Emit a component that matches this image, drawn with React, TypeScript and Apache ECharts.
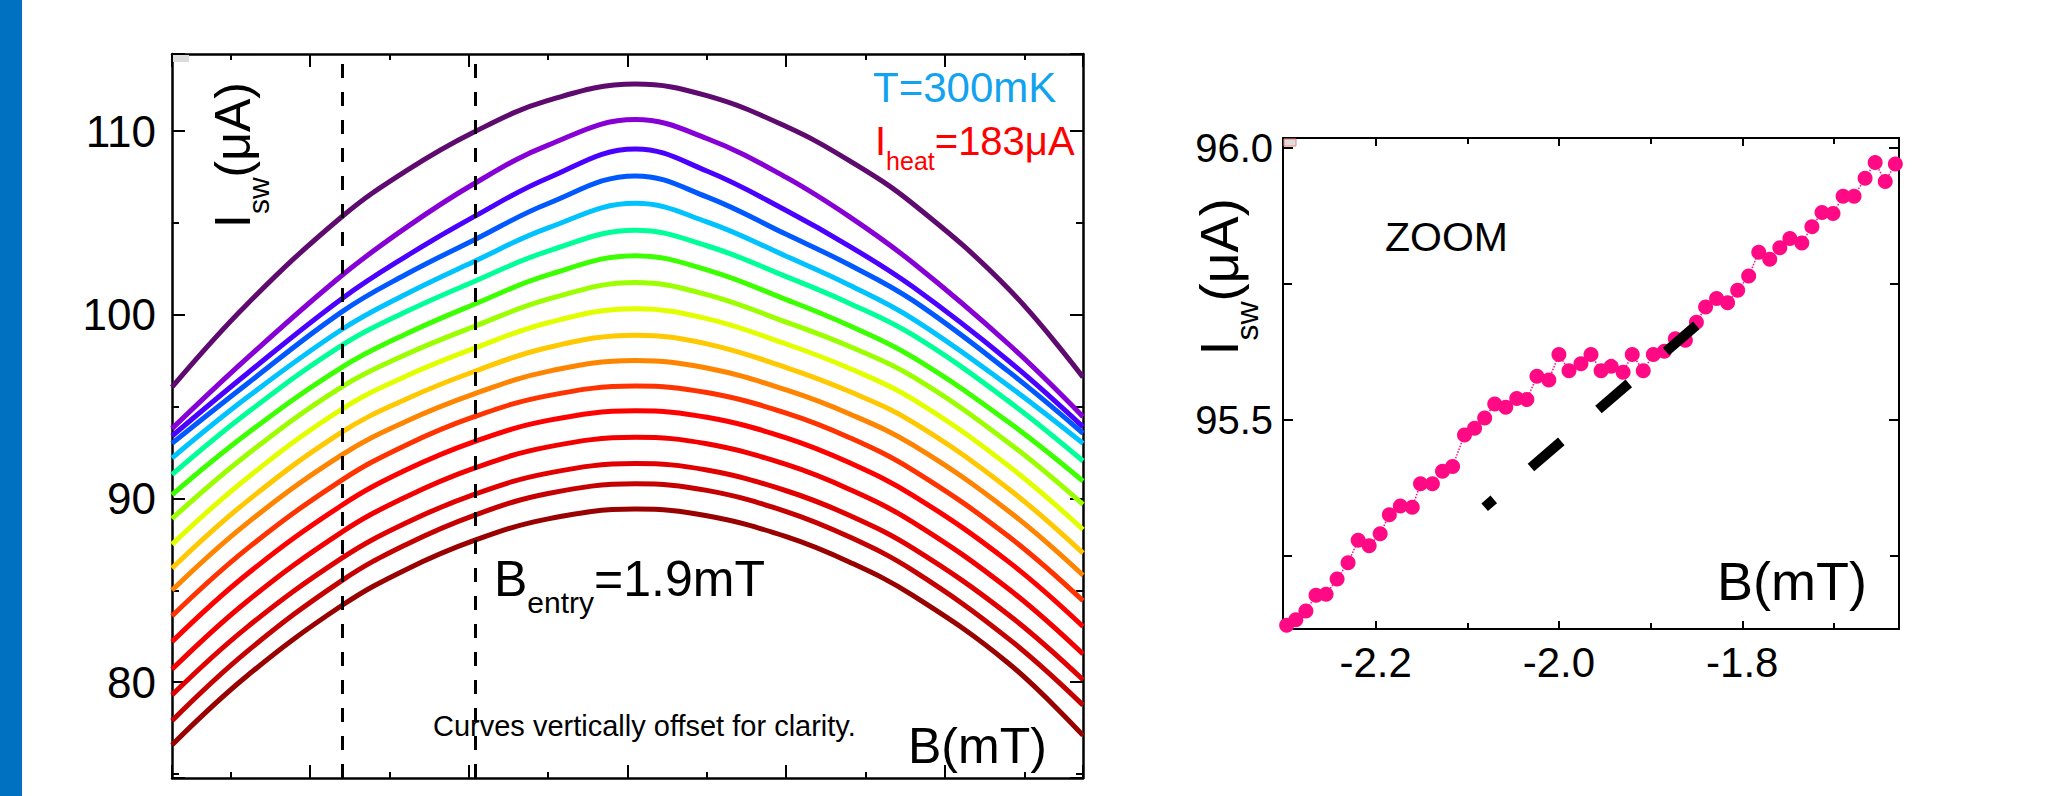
import React, { useEffect, useRef } from "react";
import * as echarts from "echarts";

const FONT = "'Liberation Sans', Arial, Helvetica, sans-serif";

// ---------- left panel: Isw(B) curves (vertically offset) ----------
const bSamples = [-2.87, -2.4, -1.8, -1.4, -0.97, -0.5, 0.05, 0.5, 1.0, 1.4, 1.8, 2.4, 2.87];

const isw01 = [96.06, 100.55, 105.34, 107.81, 109.94, 111.67, 112.56, 111.93, 110.25, 108.38, 106.03, 101.42, 96.6];
const isw02 = [93.8, 97.61, 102.14, 104.72, 107.12, 109.24, 110.63, 109.6, 107.48, 105.33, 102.82, 98.41, 94.45];
const isw03 = [93.4, 96.78, 100.88, 103.16, 105.33, 107.45, 109.03, 107.83, 105.68, 103.73, 101.51, 97.5, 93.9];
const isw04 = [93.0, 96.22, 100.16, 102.18, 104.06, 106.06, 107.56, 106.42, 104.38, 102.71, 100.77, 96.92, 93.55];
const isw05 = [92.2, 95.48, 99.2, 101.11, 102.89, 104.73, 106.07, 105.06, 103.19, 101.61, 99.77, 96.14, 93.0];
const isw06 = [91.3, 94.64, 98.34, 100.15, 101.8, 103.47, 104.6, 103.76, 102.08, 100.62, 98.89, 95.3, 92.04];
const isw07 = [90.2, 93.51, 97.14, 98.94, 100.56, 102.17, 103.22, 102.45, 100.83, 99.4, 97.68, 94.16, 90.94];
const isw08 = [88.9, 92.37, 96.08, 97.82, 99.35, 100.85, 101.76, 101.1, 99.6, 98.27, 96.62, 93.04, 89.68];
const isw09 = [87.5, 91.09, 94.86, 96.64, 98.16, 99.57, 100.33, 99.79, 98.41, 97.08, 95.4, 91.78, 88.31];
const isw10 = [86.2, 89.83, 93.61, 95.39, 96.9, 98.22, 98.89, 98.42, 97.13, 95.82, 94.14, 90.53, 87.02];
const isw11 = [85.0, 88.63, 92.37, 94.18, 95.68, 96.92, 97.51, 97.1, 95.91, 94.6, 92.9, 89.32, 85.82];
const isw12 = [83.6, 87.24, 91.0, 92.89, 94.44, 95.6, 96.12, 95.77, 94.65, 93.31, 91.53, 87.94, 84.43];
const isw13 = [82.2, 85.86, 89.63, 91.53, 93.08, 94.25, 94.77, 94.42, 93.3, 91.94, 90.16, 86.56, 83.03];
const isw14 = [80.7, 84.38, 88.17, 90.07, 91.64, 92.81, 93.33, 92.98, 91.85, 90.49, 88.7, 85.08, 81.53];
const isw15 = [79.3, 82.97, 86.75, 88.65, 90.21, 91.38, 91.9, 91.55, 90.42, 89.07, 87.28, 83.67, 80.13];
const isw16 = [77.9, 81.65, 85.53, 87.47, 89.07, 90.27, 90.8, 90.44, 89.29, 87.9, 86.07, 82.37, 78.75];
const isw17 = [76.58, 80.32, 84.17, 86.11, 87.7, 88.89, 89.42, 89.06, 87.92, 86.53, 84.71, 81.03, 77.1];

const curves = [isw01, isw02, isw03, isw04, isw05, isw06, isw07, isw08, isw09, isw10, isw11, isw12, isw13, isw14, isw15, isw16, isw17];

const curveColors = [
  "#5e0a6e", "#8600d6", "#4a00ff", "#0058ff", "#00c2ff", "#00ff99", "#3cff00", "#9cff00", "#e2ff00",
  "#ffc800", "#ff8400", "#ff3300", "#ff0000", "#f20000", "#e00000", "#c40000", "#990000",
];

// dashed vertical markers (mT)
const entryLinesB = [-1.805, -0.96];

// ---------- right panel: zoom ----------
const zoomB = [
  -2.297, -2.287, -2.276, -2.265, -2.254, -2.242, -2.23, -2.219, -2.207, -2.195,
  -2.185, -2.173, -2.16, -2.151, -2.138, -2.127, -2.116, -2.103, -2.092, -2.081,
  -2.07, -2.058, -2.046, -2.035, -2.024, -2.011, -2.0, -1.989, -1.976, -1.965,
  -1.954, -1.943, -1.93, -1.92, -1.908, -1.897, -1.885, -1.873, -1.862, -1.85,
  -1.84, -1.828, -1.816, -1.805, -1.793, -1.782, -1.77, -1.759, -1.748, -1.735,
  -1.724, -1.713, -1.701, -1.69, -1.678, -1.666, -1.655, -1.644, -1.633,
];
const zoomIsw = [
  95.122, 95.132, 95.148, 95.177, 95.179, 95.207, 95.237, 95.278, 95.268, 95.29,
  95.325, 95.341, 95.339, 95.382, 95.382, 95.405, 95.414, 95.472, 95.484, 95.503,
  95.529, 95.523, 95.539, 95.537, 95.58, 95.573, 95.62, 95.59, 95.603, 95.62,
  95.59, 95.598, 95.587, 95.62, 95.59, 95.62, 95.626, 95.649, 95.646, 95.679,
  95.707, 95.723, 95.715, 95.738, 95.764, 95.808, 95.795, 95.816, 95.833, 95.825,
  95.855, 95.881, 95.879, 95.911, 95.911, 95.944, 95.973, 95.938, 95.97,
];
const guideB = [-2.081, -1.849];
const guideIsw = [95.339, 95.675];

// ---------- helpers ----------
const isMult = (v: number, step: number) => Math.abs(v / step - Math.round(v / step)) < 1e-6;

function axis(gridIndex: number, position: string, min: number, max: number, splitNumber: number,
  label: any, tickLen: number, minorLen: number, lineW: number) {
  return {
    type: "value",
    gridIndex,
    position,
    min,
    max,
    splitNumber,
    axisLine: { show: true, onZero: false, lineStyle: { color: "#000", width: lineW } },
    axisTick: { show: true, inside: true, length: tickLen, lineStyle: { color: "#000", width: 2 } },
    minorTick: { show: true, splitNumber: 2, length: minorLen, lineStyle: { color: "#000", width: 2 } },
    splitLine: { show: false },
    minorSplitLine: { show: false },
    axisLabel: label ? { show: true, color: "#000", fontFamily: FONT, ...label } : { show: false },
  };
}

function richLabel(x: number, y: number, parts: Array<[string, boolean]>, F: number, f: number,
  subDrop: number, color: string, rotation = 0, align = "left") {
  const P = 0.8465 * F + subDrop - 0.8465 * f;
  const text = parts.map(([t, sub]) => `{${sub ? "s" : "m"}|${t}}`).join("");
  return {
    type: "text",
    x,
    y,
    rotation,
    z: 100,
    silent: true,
    style: {
      text,
      fill: color,
      fontFamily: FONT,
      fontSize: F,
      align,
      verticalAlign: "top",
      rich: {
        m: { fontSize: F, fontFamily: FONT, fill: color, verticalAlign: "top" },
        s: { fontSize: f, fontFamily: FONT, fill: color, verticalAlign: "top", padding: [P, 0, 0, 0] },
      },
    },
  };
}

function buildOption() {
  const curveSeries = curves.map((vals, i) => ({
    type: "line",
    xAxisIndex: 0,
    yAxisIndex: 0,
    data: bSamples.map((b, j) => [b, vals[j]]),
    smooth: 0.4,
    symbol: "none",
    silent: true,
    lineStyle: { color: curveColors[i], width: 5 },
    z: 2,
    ...(i === 0
      ? {
          markLine: {
            silent: true,
            symbol: ["none", "none"],
            label: { show: false },
            emphasis: { disabled: true },
            lineStyle: { color: "#000", width: 3, type: [14, 14] },
            data: entryLinesB.map((b) => ({ xAxis: b })),
          },
        }
      : {}),
  }));

  return {
    animation: false,
    backgroundColor: "#ffffff",
    textStyle: { fontFamily: FONT },
    grid: [
      { left: 172, top: 54, width: 911, height: 724, containLabel: false, outerBoundsMode: "none" },
      { left: 1283, top: 138, width: 616, height: 491, containLabel: false, outerBoundsMode: "none" },
    ],
    xAxis: [
      axis(0, "bottom", -2.87, 2.87, 5,
        { fontSize: 44, margin: 12, formatter: (v: number) => (isMult(v, 1) ? String(Math.round(v)) : "") }, 13, 6, 2.5),
      axis(0, "top", -2.87, 2.87, 5, null, 13, 6, 2.5),
      axis(1, "bottom", -2.301, -1.629, 3,
        { fontSize: 42, margin: 12, formatter: (v: number) => (isMult(v, 0.2) ? v.toFixed(1) : "") }, 8, 6, 2),
      axis(1, "top", -2.301, -1.629, 3, null, 8, 6, 2),
    ],
    yAxis: [
      axis(0, "left", 74.78, 114.2, 4,
        { fontSize: 44, margin: 16, formatter: (v: number) => (isMult(v, 10) ? String(Math.round(v)) : "") }, 13, 7, 2.5),
      axis(0, "right", 74.78, 114.2, 4, null, 13, 7, 2.5),
      axis(1, "left", 95.115, 96.018, 2,
        { fontSize: 40, margin: 10, formatter: (v: number) => (isMult(v, 0.5) ? v.toFixed(1) : "") }, 10, 9, 2),
      axis(1, "right", 95.115, 96.018, 2, null, 10, 9, 2),
    ],
    series: [
      ...curveSeries,
      {
        type: "line",
        xAxisIndex: 2,
        yAxisIndex: 2,
        data: zoomB.map((b, i) => [b, zoomIsw[i]]),
        symbol: "circle",
        symbolSize: 15,
        showSymbol: true,
        silent: true,
        itemStyle: { color: "#ff0a84" },
        lineStyle: { color: "#ff0a84", width: 1.5, type: "dotted" },
        z: 3,
      },
      {
        type: "line",
        xAxisIndex: 2,
        yAxisIndex: 2,
        data: guideB.map((b, i) => [b, guideIsw[i]]),
        symbol: "none",
        silent: true,
        lineStyle: { color: "#000", width: 10, type: [40, 49], dashOffset: 28, cap: "butt" },
        z: 4,
      },
    ],
    graphic: [
      { type: "rect", shape: { x: 0, y: 0, width: 22, height: 796 }, style: { fill: "#0070c0" }, silent: true },
      { type: "rect", shape: { x: 173, y: 55, width: 16, height: 7 }, style: { fill: "#dcdcdc" }, silent: true, z: 50 },
      { type: "rect", shape: { x: 1284, y: 139, width: 12, height: 7 }, style: { fill: "#dddddd", stroke: "#f08080", lineWidth: 1 }, silent: true, z: 50 },
      richLabel(207.7, 155, [["I", false], ["sw", true], ["(μA)", false]], 50, 30, 18.5, "#000", Math.PI / 2, "center"),
      richLabel(873, 66, [["T=300mK", false]], 42, 42, 0, "#12a2ee"),
      richLabel(875, 121, [["I", false], ["heat", true], ["=183μA", false]], 40, 25, 15, "#ff0000"),
      richLabel(494, 553.7, [["B", false], ["entry", true], ["=1.9mT", false]], 50, 30, 17, "#000"),
      richLabel(433, 711, [["Curves vertically offset for clarity.", false]], 29, 29, 0, "#000"),
      richLabel(908, 721, [["B(mT)", false]], 50, 50, 0, "#000"),
      richLabel(1192, 277, [["I", false], ["sw", true], ["(μA)", false]], 54, 32, 20, "#000", Math.PI / 2, "center"),
      richLabel(1385, 216, [["ZOOM", false]], 41, 41, 0, "#000"),
      richLabel(1717, 554, [["B(mT)", false]], 54, 54, 0, "#000"),
    ],
  };
}

export default function App() {
  const ref = useRef<HTMLDivElement>(null);
  useEffect(() => {
    if (!ref.current) return;
    const chart = echarts.init(ref.current, undefined, { renderer: "svg" });
    chart.setOption(buildOption() as any);
    return () => {
      chart.dispose();
    };
  }, []);
  return (
    <div
      ref={ref}
      style={{ position: "fixed", left: 0, top: 0, width: 2063, height: 796, background: "#ffffff" }}
    />
  );
}
